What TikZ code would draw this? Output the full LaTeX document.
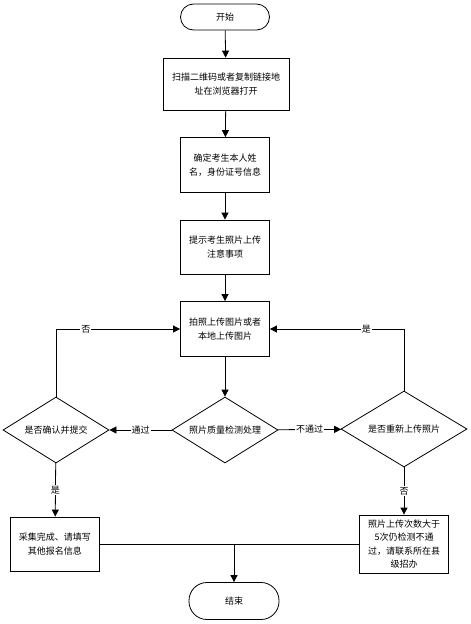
\documentclass[tikz,border=0pt]{standalone}
\usepackage{fontspec}
\setmainfont{Noto Sans CJK SC}
\usetikzlibrary{shapes.geometric,arrows.meta}

\begin{document}
\begin{tikzpicture}[x=1pt,y=-1pt,font=\fontsize{9}{13.5}\selectfont,
  line width=0.8pt,
  term/.style={draw,rounded corners=13pt,minimum width=89pt,minimum height=26pt},
  proc/.style={draw,align=center,minimum width=89pt,minimum height=55pt,inner sep=2pt},
  dec/.style={draw,diamond,inner sep=0pt,aspect=1.6,minimum width=106pt,minimum height=66pt},
  arr/.style={-{Triangle[length=7pt,width=7pt]}},
  lbl/.style={fill=white,inner sep=1pt}]
\useasboundingbox (0,0) rectangle (471,624);
\node[term] (start) at (225,17) {开始};
\node[proc,minimum width=126pt,minimum height=52pt] (scan) at (226,84) {扫描二维码或者复制链接地\\址在浏览器打开};
\node[proc] (name) at (225,165) {确定考生本人姓\\名，身份证号信息};
\node[proc,minimum height=54pt] (tips) at (225,247) {提示考生照片上传\\注意事项};
\node[proc] (upload) at (225,329) {拍照上传图片或者\\本地上传图片};
\node[dec] (check) at (225,430) {照片质量检测处理};
\node[dec] (confirm) at (56,430) {是否确认并提交};
\node[dec,minimum width=126pt,minimum height=76pt] (retry) at (404,429) {是否重新上传照片};
\node[proc,minimum height=54pt] (done) at (55,544) {采集完成、请填写\\其他报名信息};
\node[proc,minimum height=58pt] (fail) at (404,544) {照片上传次数大于\\5次仍检测不通\\过，请联系所在县\\级招办};
\node[term,minimum width=90pt,minimum height=37pt,rounded corners=18pt] (end) at (234,601) {结束};
\draw[arr] (start) -- (scan);
\draw[arr] (scan) -- (name);
\draw[arr] (name) -- (tips);
\draw[arr] (tips) -- (upload);
\draw[arr] (upload) -- (check);
\draw[arr] (check) -- node[lbl]{通过} (confirm);
\draw[arr] (check) -- node[lbl]{不通过} (retry);
\draw[arr] (confirm.north) |- node[lbl,pos=0.62]{否} (upload);
\draw[arr] (retry.north) |- node[lbl,pos=0.64]{是} (upload);
\draw[arr] (confirm) -- node[lbl]{是} (done);
\draw[arr] (retry) -- node[lbl]{否} (fail);
\draw (done) -- (fail);
\draw[arr] (end.north |- done.east) -- (end);
\end{tikzpicture}
\end{document}
